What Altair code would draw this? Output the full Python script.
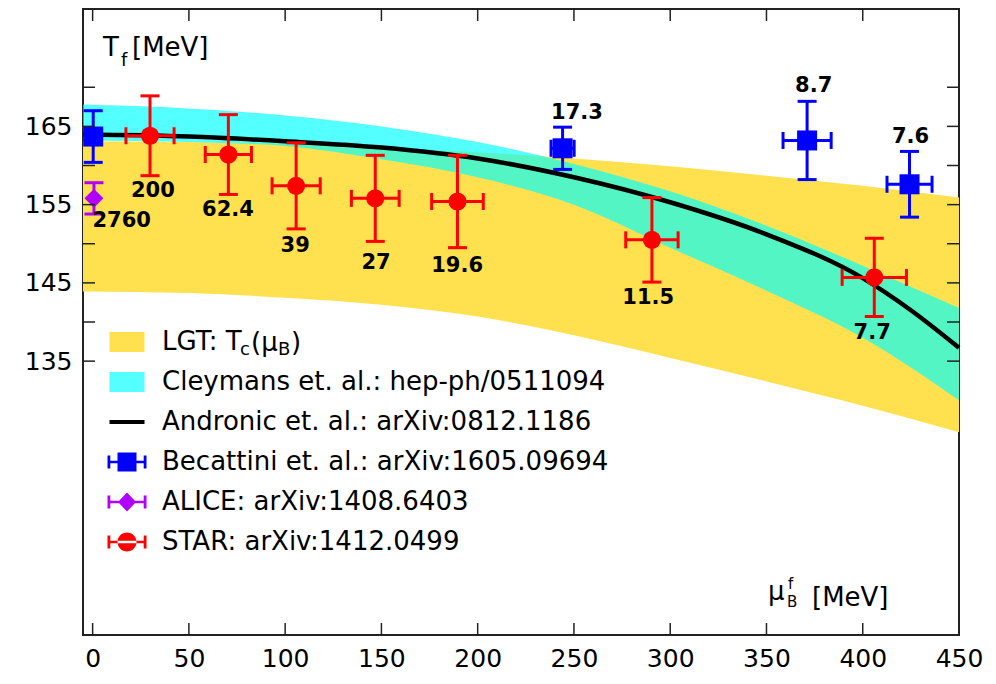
import altair as alt
import pandas as pd

# ---------------- data ----------------
band_mu = [-5, 50, 100, 150, 200, 250, 300, 350, 400, 450]
lgt_upper = [163.1, 163.0, 162.8, 162.3, 161.7, 160.9, 159.9, 158.7, 157.4, 155.9]
lgt_lower = [143.9, 143.7, 143.1, 142.2, 140.7, 138.3, 135.4, 132.4, 129.3, 125.9]
cley_upper = [167.8, 167.3, 166.4, 165.0, 163.0, 160.2, 156.7, 152.3, 147.2, 141.8]
cley_lower = [163.2, 163.0, 162.5, 160.8, 158.5, 155.0, 149.5, 144.0, 138.0, 130.0]

andr_mu = [-5, 50, 100, 150, 200, 250, 300, 350, 400, 425, 450]
andr_T = [163.95, 163.7, 163.1, 162.3, 160.9, 158.5, 155.3, 151.2, 145.6, 141.5, 136.7]

star_mu = [29.8, 70.5, 105.7, 146.8, 189.5, 290.5, 406.0]
star_T = [163.8, 161.4, 157.4, 155.8, 155.4, 150.5, 145.7]
star_dT = [5.1, 5.1, 5.5, 5.5, 5.9, 5.4, 5.0]
star_dmu = [12.5, 12.0, 12.5, 12.4, 13.4, 13.6, 16.7]

bec_mu = [0.3, 244.1, 371.1, 424.3]
bec_T = [163.7, 162.2, 163.2, 157.6]
bec_dT = [3.3, 2.7, 5.0, 4.2]
bec_dmu = [3.0, 6.0, 12.5, 11.7]

alice_mu = [0.7]
alice_T = [155.8]
alice_dT = [2.0]
alice_dmu = [0.0]

lab_text = ["200", "62.4", "39", "27", "19.6", "11.5", "7.7", "17.3", "8.7", "7.6", "2760"]
lab_mu = [31.3, 70.3, 105.2, 147.2, 189.3, 288.6, 404.9, 251.6, 374.5, 424.8, 15.1]
lab_T = [156.7, 154.3, 149.7, 147.5, 147.1, 143.1, 138.6, 166.7, 170.1, 163.7, 152.9]

x_ticks = [0, 50, 100, 150, 200, 250, 300, 350, 400, 450]
y_ticks = [135, 140, 145, 150, 155, 160, 165, 170]
y_labels = [135, 145, 155, 165]

leg_names = [
    "LGT: T",
    "Cleymans et. al.: hep-ph/0511094",
    "Andronic et. al.: arXiv:0812.1186",
    "Becattini et. al.: arXiv:1605.09694",
    "ALICE: arXiv:1408.6403",
    "STAR: arXiv:1412.0499",
]

# ---------------- layout / style ----------------
W, H = 876, 626
FONT = "DejaVu Sans"
YELLOW = "#ffe150"
CYAN = "#00ffff"
RED = "#ff0000"
BLUE = "#0000ff"
PURPLE = "#b000ff"

xs = alt.Scale(domain=[-5, 450], nice=False, zero=False)
ys = alt.Scale(domain=[100, 180], nice=False, zero=False)

x_axis = alt.Axis(values=x_ticks, ticks=False, tickSize=0, domain=False, grid=False,
                  labelFont=FONT, labelFontSize=25, labelColor="black",
                  labelPadding=11, labelFlush=False, labelOverlap=False, title=None)
y_axis = alt.Axis(values=y_labels, ticks=False, tickSize=0, domain=False, grid=False,
                  labelFont=FONT, labelFontSize=25, labelColor="black",
                  labelPadding=11, labelOverlap=False, title=None)


def X(f):
    return alt.X(f, scale=xs, axis=x_axis)


def Y(f):
    return alt.Y(f, scale=ys, axis=y_axis)


band_df = pd.DataFrame({"mu": band_mu, "lu": lgt_upper, "ll": lgt_lower,
                        "cu": cley_upper, "cl": cley_lower})
andr_df = pd.DataFrame({"mu": andr_mu, "T": andr_T})


def series_df(mu, T, dT, dmu):
    return pd.DataFrame({
        "mu": mu, "T": T,
        "lo": [t - d for t, d in zip(T, dT)],
        "hi": [t + d for t, d in zip(T, dT)],
        "mlo": [m - d for m, d in zip(mu, dmu)],
        "mhi": [m + d for m, d in zip(mu, dmu)],
    })


star_df = series_df(star_mu, star_T, star_dT, star_dmu)
bec_df = series_df(bec_mu, bec_T, bec_dT, bec_dmu)
alice_df = series_df(alice_mu, alice_T, alice_dT, alice_dmu)
lab_df = pd.DataFrame({"t": lab_text, "mu": lab_mu, "T": lab_T})

yellow = alt.Chart(band_df).mark_area(color=YELLOW, opacity=1, interpolate="monotone").encode(
    x=X("mu:Q"), y=Y("ll:Q"), y2="lu:Q",
)
cyan = alt.Chart(band_df).mark_area(color=CYAN, opacity=0.67, interpolate="monotone").encode(
    x=X("mu:Q"), y=Y("cl:Q"), y2="cu:Q",
)
line = alt.Chart(andr_df).mark_line(color="black", strokeWidth=4.5, interpolate="monotone").encode(
    x=X("mu:Q"), y=Y("T:Q"),
)


def err_layers(df, color, shape, size, xerr=True):
    base = alt.Chart(df)
    out = [
        base.mark_rule(color=color, strokeWidth=3, opacity=1).encode(
            x=X("mu:Q"), y=Y("lo:Q"), y2="hi:Q"),
        base.mark_tick(color=color, orient="horizontal", size=19, thickness=3, opacity=1).encode(
            x=X("mu:Q"), y=Y("lo:Q")),
        base.mark_tick(color=color, orient="horizontal", size=19, thickness=3, opacity=1).encode(
            x=X("mu:Q"), y=Y("hi:Q")),
    ]
    if xerr:
        out += [
            base.mark_rule(color=color, strokeWidth=3, opacity=1).encode(
                x=X("mlo:Q"), x2="mhi:Q", y=Y("T:Q")),
            base.mark_tick(color=color, orient="vertical", size=17, thickness=3, opacity=1).encode(
                x=X("mlo:Q"), y=Y("T:Q")),
            base.mark_tick(color=color, orient="vertical", size=17, thickness=3, opacity=1).encode(
                x=X("mhi:Q"), y=Y("T:Q")),
        ]
    out.append(base.mark_point(color=color, fill=color, filled=True, opacity=1,
                               strokeWidth=0, shape=shape, size=size).encode(
        x=X("mu:Q"), y=Y("T:Q")))
    return out


bec_layers = err_layers(bec_df, BLUE, "square", 400)
alice_layers = err_layers(alice_df, PURPLE, "diamond", 360, xerr=False)
star_layers = err_layers(star_df, RED, "circle", 330)

labels = alt.Chart(lab_df).mark_text(font=FONT, fontWeight="bold", fontSize=21,
                                     color="black", align="center", baseline="middle").encode(
    x=X("mu:Q"), y=Y("T:Q"), text="t:N",
)

# inward ticks on all four sides
xt_df = pd.DataFrame({"v": x_ticks})
yt_df = pd.DataFrame({"v": y_ticks})
TL = 12
tick_layers = [
    alt.Chart(xt_df).mark_rule(color="#222", strokeWidth=1.5).encode(
        x=X("v:Q"), y=alt.value(H), y2=alt.value(H - TL)),
    alt.Chart(xt_df).mark_rule(color="#222", strokeWidth=1.5).encode(
        x=X("v:Q"), y=alt.value(0), y2=alt.value(TL)),
    alt.Chart(yt_df).mark_rule(color="#222", strokeWidth=1.5).encode(
        y=Y("v:Q"), x=alt.value(0), x2=alt.value(TL)),
    alt.Chart(yt_df).mark_rule(color="#222", strokeWidth=1.5).encode(
        y=Y("v:Q"), x=alt.value(W - TL), x2=alt.value(W)),
]


def txt(s, x, y, size):
    return alt.Chart(pd.DataFrame({"t": [s]})).mark_text(
        font=FONT, fontSize=size, color="black", align="left", baseline="alphabetic"
    ).encode(x=alt.value(x), y=alt.value(y), text="t:N")


# axis titles inside the frame
title_layers = [
    txt("T", 20, 47, 26),
    txt("f", 38, 57, 18),
    txt("[MeV]", 49, 47, 26),
    txt("μ", 685, 591, 26),
    txt("f", 705, 580, 15),
    txt("B", 704, 598, 15),
    txt("[MeV]", 729, 597, 26),
]

# legend (native), custom symbol paths
cap = "M-1.95,-0.65h0.28v1.3h-0.28Z M1.67,-0.65h0.28v1.3h-0.28Z M-1.95,-0.13H1.95v0.26H-1.95Z "
leg_paths = [
    "M-1.75,-1H1.75V1H-1.75Z",
    "M-1.75,-1H1.75V1H-1.75Z",
    "M-1.75,-0.2H1.75V0.2H-1.75Z",
    cap + "M-0.95,-0.95H0.95V0.95H-0.95Z",
    cap + "M0,-0.95L0.9,0L0,0.95L-0.9,0Z",
    cap + "M-0.95,0A0.95,0.95 0 1,0 0.95,0A0.95,0.95 0 1,0 -0.95,0Z",
]
leg_colors = [YELLOW, "#55ffff", "black", BLUE, PURPLE, RED]

LEG_X, LEG_Y, LOFF = 31, 320, 22
legend = alt.Legend(orient="none", legendX=LEG_X, legendY=LEG_Y, title=None,
                    labelFont=FONT, labelFontSize=26, labelColor="black", labelLimit=1000,
                    symbolSize=400, symbolStrokeWidth=0, symbolOpacity=1,
                    labelOffset=LOFF, rowPadding=14, padding=0, offset=0)
leg_layer = alt.Chart(pd.DataFrame({"name": leg_names})).mark_point(
    filled=True, opacity=0, size=1).encode(
    color=alt.Color("name:N", scale=alt.Scale(domain=leg_names, range=leg_colors),
                    sort=leg_names, legend=legend),
    shape=alt.Shape("name:N", scale=alt.Scale(domain=leg_names, range=leg_paths),
                    sort=leg_names, legend=legend),
)

# rest of the first legend label: T_c(μ_B)
LX = LEG_X + 20 + LOFF + 84
LY = LEG_Y + 13
leg_extra = [
    txt("c", LX, LY + 13, 18),
    txt("(μ", LX + 11, LY + 9, 26),
    txt("B", LX + 38, LY + 13, 18),
    txt(")", LX + 51, LY + 9, 26),
]

chart = alt.layer(
    yellow, cyan, line,
    *bec_layers, *alice_layers, *star_layers,
    labels, *tick_layers, *title_layers, leg_layer, *leg_extra,
).properties(
    width=W, height=H,
    autosize=alt.AutoSizeParams(type="none"),
    padding={"left": 75, "top": 1, "right": 29, "bottom": 41},
    background="white",
).configure_view(stroke="#222", strokeWidth=2)

chart.save("out.html", embed_options={"renderer": "svg", "actions": False})
